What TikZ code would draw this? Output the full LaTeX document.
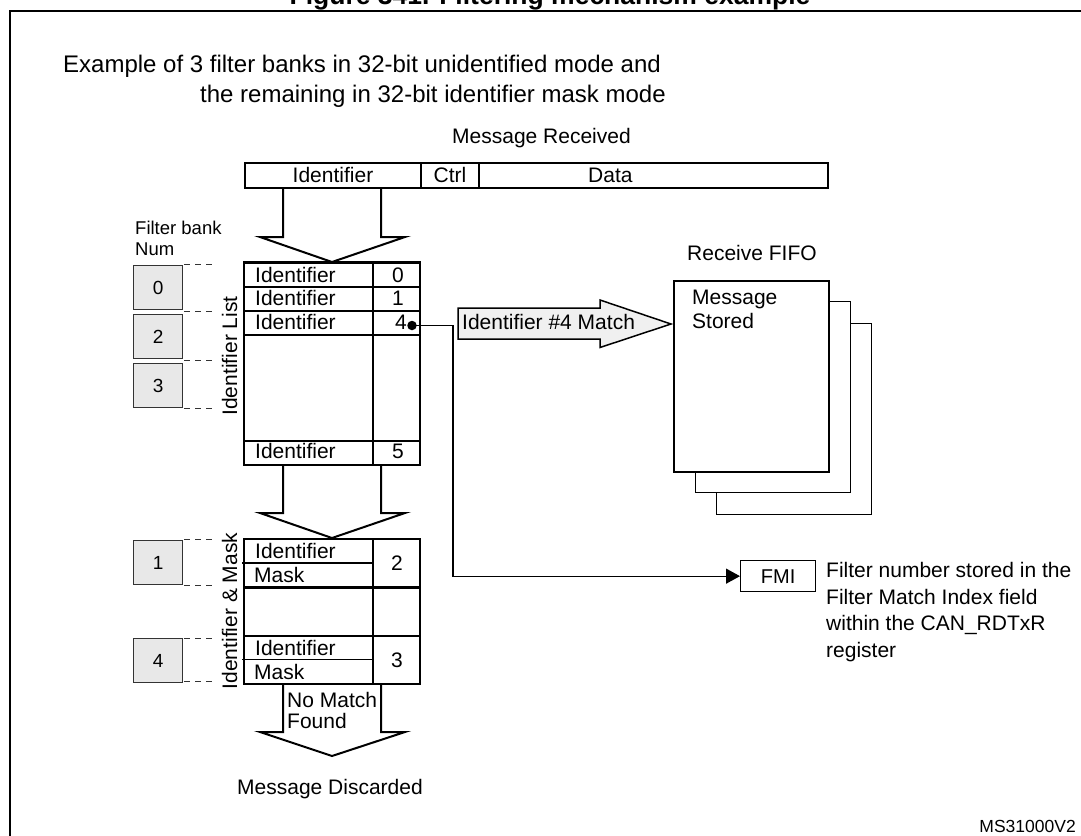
\documentclass[tikz,border=0pt]{standalone}
\usepackage{fontspec}
\setmainfont{Liberation Sans}
\usetikzlibrary{arrows.meta}
\tikzset{
  txt/.style={inner sep=0pt, font=\fontsize{21}{25}\selectfont},
  headtxt/.style={inner sep=0pt, font=\fontsize{24}{28}\selectfont},
  smalltxt/.style={inner sep=0pt, font=\fontsize{18.5}{22}\selectfont},
  tinytxt/.style={inner sep=0pt, font=\fontsize{17.5}{21}\selectfont},
  tbl/.style={line width=2.2pt},
  blockarrow/.style={line width=2pt, fill=white, line join=miter},
  matcharrow/.style={line width=1.5pt, fill=black!6, line join=miter},
  bankbox/.style={draw=black!80, line width=1.3pt, fill=black!9, inner sep=0pt,
                  minimum width=49pt, minimum height=44pt, anchor=north west,
                  font=\fontsize{19}{22}\selectfont},
  dashline/.style={line width=0.9pt, dash pattern=on 6pt off 5pt, black!80},
  thinline/.style={line width=1.3pt},
  fifobox/.style={draw, fill=white, inner sep=0pt, anchor=north west,
                  minimum width=155pt, minimum height=191pt},
}
\begin{document}
\begin{tikzpicture}[x=1pt,y=-1pt]
\useasboundingbox (0,0) rectangle (1081,835);
\clip (0,0) rectangle (1081,835);

% title and frame
\node[inner sep=0pt, anchor=base, font=\bfseries\fontsize{26.5}{30}\selectfont] (title) at (550,5) {Figure 341. Filtering mechanism example};
\draw[line width=2pt] (10,840) -- (10,11) -- (1090,11);

% header texts
\node[headtxt, anchor=base west] (ex1) at (63,72) {Example of 3 filter banks in 32-bit unidentified mode and};
\node[headtxt, anchor=base west] (ex2) at (200,102) {the remaining in 32-bit identifier mask mode};
\node[txt, anchor=base] (msgrec) at (541.5,143) {Message Received};

% message bar
\draw[tbl] (245,163) rectangle (828,188);
\draw[tbl] (421,163) -- (421,188) (479,163) -- (479,188);
\node[txt, anchor=base] (barid) at (333,182) {Identifier};
\node[txt, anchor=base] (barctrl) at (450,182) {Ctrl};
\node[txt, anchor=base west] (bardata) at (588,182) {Data};

% block arrow 1
\draw[blockarrow] (283,189) -- (283,237) -- (260,237) -- (332,262) -- (405,237) -- (381,237) -- (381,189);

% filter bank label
\node[smalltxt, anchor=base west] (fb1) at (135,234) {Filter bank};
\node[smalltxt, anchor=base west] (fb2) at (135,255) {Num};

% bank boxes
\node[bankbox] (b0) at (133,265) {0};
\node[bankbox] (b2) at (133,314) {2};
\node[bankbox] (b3) at (133,363) {3};
\node[bankbox] (b1) at (133,540) {1};
\node[bankbox] (b4) at (133,638) {4};

% dashed guides
\foreach \yy in {264,311,360,408,539.5,585.5,638,681.5}
  \draw[dashline] (184,\yy) -- (213,\yy);

% identifier list table
\draw[tbl] (244,262.5) rectangle (420,465);
\draw[tbl] (373,262.5) -- (373,465);
\draw[line width=2.6pt] (244,287) -- (420,287) (244,311) -- (420,311);
\draw[tbl] (244,335) -- (420,335) (244,441) -- (420,441);
\node[txt, anchor=base west] (r0) at (255,282) {Identifier};
\node[txt, anchor=base west] (r1) at (255,305) {Identifier};
\node[txt, anchor=base west] (r2) at (255,329) {Identifier};
\node[txt, anchor=base west] (r5) at (255,458) {Identifier};
\node[txt, anchor=base] (n0) at (398,282) {0};
\node[txt, anchor=base] (n1) at (398,305) {1};
\node[txt, anchor=base] (n4) at (401,329) {4};
\node[txt, anchor=base] (n5) at (398,458) {5};
\node[txt, rotate=90, anchor=base] (idlist) at (237,356) {Identifier List};

% match dot
\node[circle, fill=black, inner sep=0pt, minimum size=9.5pt] (dot) at (412,325.5) {};

% block arrow 2
\draw[blockarrow] (283,466) -- (283,513) -- (260,513) -- (332,538) -- (405,513) -- (381,513) -- (381,466);

% identifier & mask table
\draw[tbl] (244,539) rectangle (420,684);
\draw[tbl] (373,539) -- (373,684);
\draw[line width=2.6pt] (244,587.5) -- (420,587.5);
\draw[tbl] (244,636) -- (420,636);
\draw[line width=1.8pt] (242,563) -- (373,563) (242,659.5) -- (373,659.5);
\node[txt, anchor=base west] (m1) at (255,558.5) {Identifier};
\node[txt, anchor=base west] (m2) at (254,582) {Mask};
\node[txt, anchor=base west] (m3) at (255,655) {Identifier};
\node[txt, anchor=base west] (m4) at (254,679) {Mask};
\node[txt, anchor=base] (n2) at (397,570.5) {2};
\node[txt, anchor=base] (n3) at (397,667.5) {3};
\node[txt, rotate=90, anchor=base] (idmask) at (237,611) {Identifier \& Mask};

% block arrow 3
\draw[blockarrow] (283,685) -- (283,732) -- (260,732) -- (332,756) -- (405,732) -- (381,732) -- (381,685);
\node[txt, anchor=base west] (nm1) at (287,707) {No Match};
\node[txt, anchor=base west] (nm2) at (287,728) {Found};
\node[txt, anchor=base west] (disc) at (237,794) {Message Discarded};

% match arrow
\draw[matcharrow] (458,308) -- (600,308) -- (600,300) -- (671,324) -- (600,347.5) -- (600,339) -- (458,339) -- cycle;
\node[txt, anchor=base west] (match) at (462,329.5) {Identifier \#4 Match};

% receive FIFO
\node[txt, anchor=base west] (rfifo) at (687,260.5) {Receive FIFO};
\node[fifobox, line width=1.3pt] (f3) at (716,323) {};
\node[fifobox, line width=1.3pt] (f2) at (695,301) {};
\node[fifobox, line width=2.2pt] (f1) at (673,280) {};
\node[txt, anchor=base west] (ms1) at (692,304) {Message};
\node[txt, anchor=base west] (ms2) at (692,328) {Stored};

% FMI
\node[draw, thinline, inner sep=0pt, minimum width=75pt, minimum height=31pt, anchor=north west, font=\fontsize{20}{24}\selectfont] (fmi) at (740,560) {FMI};
\coordinate (bend) at (453,325.5);
\draw[thinline, -{Triangle[length=14pt,width=15pt]}] (dot.center) -- (bend) |- (fmi.west);

\node[txt, anchor=base west] (fn1) at (826,577.5) {Filter number stored in the};
\node[txt, anchor=base west] (fn2) at (826,604) {Filter Match Index field};
\node[txt, anchor=base west] (fn3) at (826,630.5) {within the CAN\_RDTxR};
\node[txt, anchor=base west] (fn4) at (826,657) {register};

\node[tinytxt, anchor=base east] (ms) at (1076,832) {MS31000V2};
\end{tikzpicture}
\end{document}
